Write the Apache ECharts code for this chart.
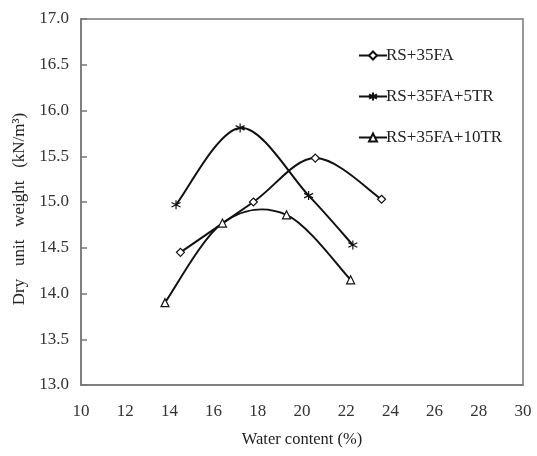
<!DOCTYPE html>
<html>
<head>
<meta charset="utf-8">
<script src="https://cdn.jsdelivr.net/npm/echarts@6/dist/echarts.min.js"></script>
<style>html,body{margin:0;padding:0;background:#fff;}#c{width:537px;height:456px;}</style>
</head>
<body>
<div id="c"></div>
<script>
var seriesNames = ['RS+35FA', 'RS+35FA+5TR', 'RS+35FA+10TR'];
var fa35 = [[14.5, 14.45], [17.8, 15.0], [20.6, 15.48], [23.6, 15.03]];
var fa35tr5 = [[14.3, 14.97], [17.2, 15.81], [20.3, 15.07], [22.3, 14.53]];
var fa35tr10 = [[13.8, 13.9], [16.4, 14.77], [19.3, 14.86], [22.2, 14.15]];
var xTicks = [10, 12, 14, 16, 18, 20, 22, 24, 26, 28, 30];
var yTicks = [13.0, 13.5, 14.0, 14.5, 15.0, 15.5, 16.0, 16.5, 17.0];

var font = '"Liberation Serif", "Times New Roman", serif';
var asterisk = 'path://M0,-5L0,5M-4.33,-2.5L4.33,2.5M-4.33,2.5L4.33,-2.5';

// markers (line series whose own stroke is hidden; the curve is drawn by a custom series)
function marks(name, data, symbol, size) {
  return {
    name: name, type: 'line', data: data, z: 3,
    symbol: symbol, symbolSize: size, showSymbol: true,
    lineStyle: {color: '#111', width: 0, opacity: 0},
    itemStyle: {color: '#fff', borderColor: '#111', borderWidth: 1.2},
    emphasis: {disabled: true}
  };
}

// smooth curve through the data points (spreadsheet-style Catmull-Rom spline)
function curve(name, data) {
  return {
    name: name + ' (curve)', type: 'custom', data: data, z: 2, silent: true,
    renderItem: function (params, api) {
      var i = params.dataIndex;
      if (i >= data.length - 1) return null;
      var p0 = api.coord(data[Math.max(i - 1, 0)]);
      var p1 = api.coord(data[i]);
      var p2 = api.coord(data[i + 1]);
      var p3 = api.coord(data[Math.min(i + 2, data.length - 1)]);
      return {
        type: 'bezierCurve',
        shape: {
          x1: p1[0], y1: p1[1], x2: p2[0], y2: p2[1],
          cpx1: p1[0] + (p2[0] - p0[0]) / 6, cpy1: p1[1] + (p2[1] - p0[1]) / 6,
          cpx2: p2[0] - (p3[0] - p1[0]) / 6, cpy2: p2[1] - (p3[1] - p1[1]) / 6
        },
        style: {stroke: '#111', lineWidth: 2, fill: null}
      };
    }
  };
}

var chart = echarts.init(document.getElementById('c'));
chart.setOption({
  animation: false,
  backgroundColor: '#fff',
  grid: {left: 81, right: 14, top: 19, bottom: 71, show: true, borderColor: '#777', borderWidth: 1.5},
  legend: {
    data: seriesNames, orient: 'vertical', left: 353, top: 42, itemGap: 24,
    itemWidth: 28, itemHeight: 10,
    lineStyle: {width: 2, color: '#111', opacity: 1},
    textStyle: {fontFamily: font, fontSize: 17, color: '#222', padding: [0, 0, 8, -6]}
  },
  xAxis: {
    type: 'value', min: xTicks[0], max: xTicks[xTicks.length - 1], interval: 2,
    name: 'Water content (%)', nameLocation: 'middle', nameGap: 46,
    nameTextStyle: {fontFamily: font, fontSize: 16.5, color: '#222'},
    axisLine: {lineStyle: {color: '#777', width: 1.5}},
    axisTick: {show: false},
    splitLine: {show: false},
    axisLabel: {fontFamily: font, fontSize: 17, color: '#333', margin: 18}
  },
  yAxis: {
    type: 'value', min: yTicks[0], max: yTicks[yTicks.length - 1], interval: 0.5,
    name: 'Dry   unit   weight   (kN/m³)', nameLocation: 'middle', nameGap: 52,
    nameTextStyle: {fontFamily: font, fontSize: 17, color: '#222', padding: [0, 14, 0, 0]},
    axisLine: {show: true, lineStyle: {color: '#777', width: 1.5}},
    axisTick: {show: true, inside: true, length: 6, lineStyle: {color: '#777', width: 1.5}},
    splitLine: {show: false},
    axisLabel: {fontFamily: font, fontSize: 17, color: '#333', margin: 12,
      formatter: function (v) { return v.toFixed(1); }}
  },
  series: [
    marks(seriesNames[0], fa35, 'diamond', 8),
    marks(seriesNames[1], fa35tr5, asterisk, 9),
    marks(seriesNames[2], fa35tr10, 'triangle', 8),
    curve(seriesNames[0], fa35),
    curve(seriesNames[1], fa35tr5),
    curve(seriesNames[2], fa35tr10)
  ]
});
</script>
</body>
</html>
